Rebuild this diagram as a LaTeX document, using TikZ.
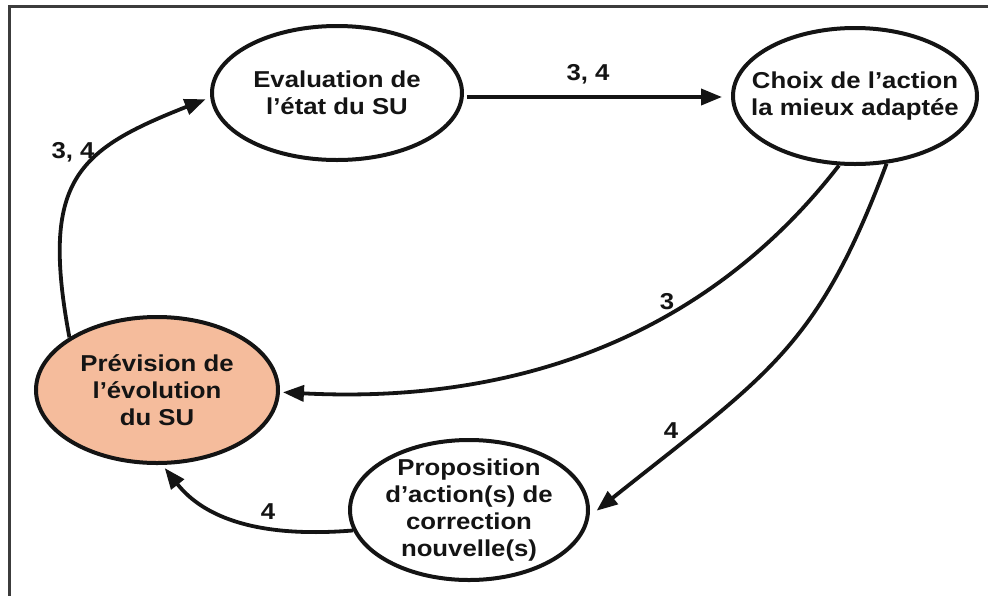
\documentclass[tikz,border=0pt]{standalone}
\usepackage{fontspec}
\setmainfont{Liberation Sans}[FakeStretch=1.12]
\usetikzlibrary{arrows.meta,shapes.geometric}
\definecolor{salmon}{RGB}{245,188,156}
\definecolor{ink}{RGB}{20,20,20}
\definecolor{framecol}{RGB}{60,60,60}
\begin{document}
\begin{tikzpicture}[x=1pt,y=-1pt,
  state/.style={ellipse, draw=ink, line width=4pt, inner sep=0pt},
  statetext/.style={align=center, font=\bfseries\fontsize{23}{26.7}\selectfont, text=ink},
  conn/.style={draw=ink, line width=3.8pt, -{Triangle[length=21pt,width=16pt]}},
  lbl/.style={font=\bfseries\fontsize{23}{26}\selectfont, text=ink}]
\useasboundingbox (0,0) rectangle (988,595);
\draw[line width=3pt, draw=framecol] (9,600) -- (9,6) -- (992,6);

\node[state, minimum width=250pt, minimum height=134pt,
  label={[statetext]center:Evaluation de\\l’état du SU}] (ev) at (337,93) {};
\node[state, minimum width=244pt, minimum height=136pt,
  label={[statetext]center:Choix de l’action\\la mieux adaptée}] (ch) at (855,96) {};
\node[state, fill=salmon, minimum width=242pt, minimum height=146pt,
  label={[statetext]center:Prévision de\\l’évolution\\du SU}] (pr) at (157,390) {};
\node[state, minimum width=238pt, minimum height=140pt,
  label={[statetext]center:Proposition\\d’action(s) de\\correction\\nouvelle(s)}] (po) at (469,510) {};

\draw[conn] ([shift={(3,4)}]ev.east) -- ([shift={(-9,1)}]ch.west);
\draw[conn, shorten >=5pt] (pr.149) .. controls (40,180) and (77,150) .. (ev.182);
\draw[conn, shorten >=3pt] (ch.257) .. controls (714,327) and (530,405) .. (pr.-1);
\draw[conn, shorten >=9pt] (ch.-65) .. controls (817,349) and (768,374) .. (po.-3);
\draw[conn, shorten >=4pt] (po.190) .. controls (261,538) and (205,519) .. (pr.-86);

\node[lbl] (l1) at (588,74) {3, 4};
\node[lbl] (l2) at (73,152) {3, 4};
\node[lbl] (l3) at (667,302) {3};
\node[lbl] (l4) at (671,431) {4};
\node[lbl] (l5) at (268,512) {4};
\end{tikzpicture}
\end{document}
